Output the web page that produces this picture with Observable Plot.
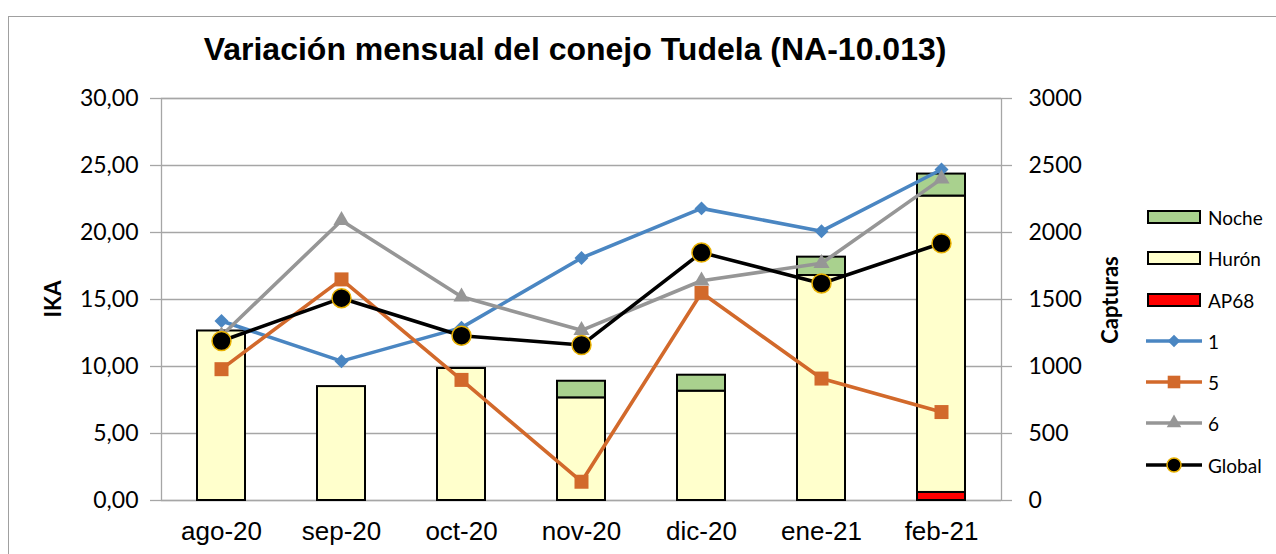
<!DOCTYPE html>
<html>
<head>
<meta charset="utf-8">
<script src="https://cdn.jsdelivr.net/npm/d3@7"></script>
<script src="https://cdn.jsdelivr.net/npm/@observablehq/plot@0.6"></script>
<style>
  html, body { margin: 0; padding: 0; background: #fff; }
  #wrap { position: relative; width: 1276px; height: 554px; overflow: hidden; font-family: Lato, sans-serif; }
  #border { position: absolute; left: 8px; top: 16px; width: 1400px; height: 700px; border: 1px solid #a0a0a0; box-sizing: border-box; }
  #chart { position: absolute; left: 0; top: 0; }
  #title { position: absolute; left: 0; top: 33px; width: 1150px; text-align: center; font-family: "Liberation Sans", Arial, sans-serif; font-weight: bold; font-size: 32px; line-height: 32px; color: #000; }
  .ylab { position: absolute; font-family: Lato, sans-serif; font-weight: bold; font-size: 22px; color: #000; transform: translate(-50%, -50%) rotate(-90deg); white-space: nowrap; }
  #legend { position: absolute; left: 1146px; top: 0; }
  .lrow { position: absolute; left: 0; height: 24px; display: flex; align-items: center; white-space: nowrap; font-family: Lato, sans-serif; font-size: 19px; color: #000; }
  .lrow svg { margin-right: 4px; }
  svg [aria-label="y-axis tick label"] { font-family: Lato, sans-serif; font-size: 23px; fill: #000; }
  svg [aria-label="x-axis tick label"] { font-family: "Liberation Sans", Arial, sans-serif; font-size: 26px; fill: #000; }
  svg [aria-label="y-axis tick"] { stroke: #a6a6a6; stroke-width: 1.3; }
</style>
</head>
<body>
<div id="wrap">
  <div id="border"></div>
  <div id="chart"></div>
  <div id="title">Variación mensual del conejo Tudela (NA-10.013)</div>
  <div class="ylab" style="left:52px; top:299px;">IKA</div>
  <div class="ylab" style="left:1109px; top:300px;">Capturas</div>
  <div id="legend"></div>
</div>
<script>
// ---- data ----
const months = ["ago-20", "sep-20", "oct-20", "nov-20", "dic-20", "ene-21", "feb-21"];
// captures (right axis)
const ap68  = [0, 0, 0, 0, 0, 0, 60];
const huron = [1265, 850, 985, 766, 816, 1679, 2212];
const noche = [0, 0, 0, 124, 119, 137, 164];
// IKA (left axis)
const ika1   = [13.4, 10.4, 12.9, 18.1, 21.8, 20.1, 24.7];
const ika5   = [9.8, 16.5, 9.0, 1.4, 15.5, 9.1, 6.6];
const ika6   = [12.3, 20.9, 15.2, 12.7, 16.4, 17.7, 24.0];
const global = [11.9, 15.1, 12.3, 11.6, 18.5, 16.2, 19.2];
// tick values
const ikaTicks = [0, 5, 10, 15, 20, 25, 30];
const capTicks = [0, 500, 1000, 1500, 2000, 2500, 3000];

const barSeries = [
  {name: "AP68", values: ap68},
  {name: "Hurón", values: huron},
  {name: "Noche", values: noche}
];
const barColors = {"Noche": "#a9d18e", "Hurón": "#ffffcc", "AP68": "#ff0000"};

// captures mapped onto IKA scale (3000 captures <-> 30 IKA)
const capScale = 100;
const barRows = [];
for (const s of barSeries) months.forEach((m, i) => { if (s.values[i] > 0) barRows.push({month: m, cat: s.name, value: s.values[i] / capScale}); });

const lineSeries = [
  {name: "1", values: ika1, color: "#4a86c2", symbol: "diamond2", r: 6.3},
  {name: "5", values: ika5, color: "#d2692b", symbol: "square", r: 7.9},
  {name: "6", values: ika6, color: "#969696", symbol: "triangle", r: 6.0},
  {name: "Global", values: global, color: "#000000", symbol: "circle", r: 9.5}
];

const lineMarks = [];
for (const s of lineSeries) {
  const rows = months.map((m, i) => ({month: m, v: s.values[i]}));
  lineMarks.push(Plot.line(rows, {x: "month", y: "v", stroke: s.color, strokeWidth: 3.6}));
  if (s.name === "Global") {
    lineMarks.push(Plot.dot(rows, {x: "month", y: "v", r: s.r, fill: "#000", stroke: "#e8b000", strokeWidth: 1.5}));
  } else {
    lineMarks.push(Plot.dot(rows, {x: "month", y: "v", r: s.r, symbol: () => s.symbol, fill: s.color, stroke: "none"}));
  }
}

const chart = Plot.plot({
  width: 1276,
  height: 554,
  marginLeft: 161,
  marginRight: 275,
  marginTop: 98,
  marginBottom: 54,
  style: {background: "transparent", overflow: "visible"},
  x: {domain: months, paddingInner: 0.6, paddingOuter: 0.3, round: false},
  y: {domain: [0, 30]},
  color: {domain: ["AP68", "Hurón", "Noche"], range: ["#ff0000", "#ffffcc", "#a9d18e"]},
  symbol: {type: "identity"},
  marks: [
    Plot.gridY(ikaTicks, {stroke: "#a6a6a6", strokeOpacity: 1, strokeWidth: 1.3}),
    Plot.frame({stroke: "#a6a6a6", strokeWidth: 1.3}),
    Plot.axisY({anchor: "left", ticks: ikaTicks, tickFormat: d => d.toFixed(2).replace(".", ","), tickSize: 11, tickPadding: 12, label: null}),
    Plot.axisY({anchor: "right", ticks: capTicks.map(v => v / capScale), tickFormat: d => String(Math.round(d * capScale)), tickSize: 10, tickPadding: 17, label: null}),
    Plot.axisX({anchor: "bottom", tickSize: 0, tickPadding: 21, label: null}),
    Plot.barY(barRows, Plot.stackY({x: "month", y: "value", fill: "cat", order: ["AP68", "Hurón", "Noche"], stroke: "#000", strokeWidth: 2})),
    ...lineMarks
  ]
});
document.getElementById("chart").appendChild(chart);

// ---- legend ----
const legendItems = [
  {name: "Noche", type: "bar"},
  {name: "Hurón", type: "bar"},
  {name: "AP68", type: "bar"},
  ...lineSeries.map(s => ({name: s.name, type: "line", s}))
];
const legend = document.getElementById("legend");
const rowCenters = [217, 258, 300, 341, 382, 423, 465];
legendItems.forEach((it, i) => {
  const row = document.createElement("div");
  row.className = "lrow";
  row.style.top = (rowCenters[i] - 12) + "px";
  const ns = "http://www.w3.org/2000/svg";
  const svg = document.createElementNS(ns, "svg");
  svg.setAttribute("width", 58); svg.setAttribute("height", 24);
  if (it.type === "bar") {
    const r = document.createElementNS(ns, "rect");
    r.setAttribute("x", 2); r.setAttribute("y", 6); r.setAttribute("width", 52); r.setAttribute("height", 12);
    r.setAttribute("fill", barColors[it.name]); r.setAttribute("stroke", "#000"); r.setAttribute("stroke-width", 2);
    svg.appendChild(r);
  } else {
    const s = it.s;
    const l = document.createElementNS(ns, "line");
    l.setAttribute("x1", 0); l.setAttribute("x2", 56); l.setAttribute("y1", 12); l.setAttribute("y2", 12);
    l.setAttribute("stroke", s.color); l.setAttribute("stroke-width", 3.6);
    svg.appendChild(l);
    const p = document.createElementNS(ns, "path");
    const symMap = {diamond2: d3.symbolDiamond2, square: d3.symbolSquare, triangle: d3.symbolTriangle, circle: d3.symbolCircle};
    const rr = s.name === "Global" ? 7 : s.r * 0.9;
    p.setAttribute("d", d3.symbol(symMap[s.symbol], Math.PI * rr * rr)());
    p.setAttribute("transform", "translate(28,12)");
    p.setAttribute("fill", s.name === "Global" ? "#000" : s.color);
    if (s.name === "Global") { p.setAttribute("stroke", "#e8b000"); p.setAttribute("stroke-width", 1.5); }
    svg.appendChild(p);
  }
  row.appendChild(svg);
  const t = document.createElement("span");
  t.textContent = it.name;
  row.appendChild(t);
  legend.appendChild(row);
});
</script>
</body>
</html>
